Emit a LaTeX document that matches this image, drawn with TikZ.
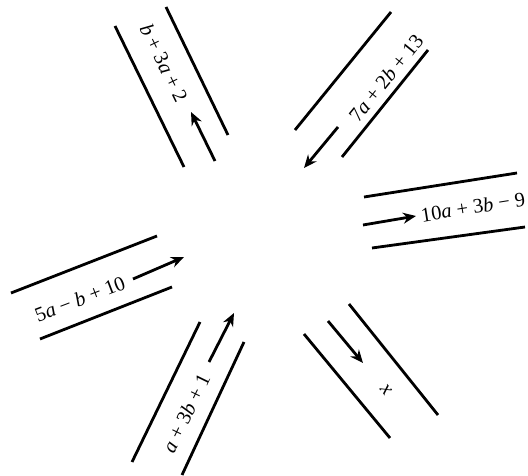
\documentclass[tikz,border=0pt]{standalone}
\usepackage{fontspec}
\setmainfont{Liberation Serif}
\usetikzlibrary{arrows.meta}
\tikzset{
  wall/.style={line width=2.8pt, line cap=butt},
  flow/.style={line width=2.8pt, -{Stealth[length=13pt,width=11pt]}},
  lbl/.style={font=\fontsize{20.5}{24}\selectfont, inner sep=0pt}
}
\newcommand{\va}{\textit{a}}
\newcommand{\vb}{\textit{b}}
\begin{document}
\begin{tikzpicture}[x=1pt,y=-1pt]
\useasboundingbox (0,0) rectangle (528,476);
% upper-left channel
\coordinate (a1) at (115,26); \coordinate (a2) at (184,167);
\coordinate (a3) at (166,7);  \coordinate (a4) at (228,135);
\coordinate (a5) at (215,161); \coordinate (a6) at (191,112);
\draw[wall] (a1) -- (a2); \draw[wall] (a3) -- (a4);
\draw[flow] (a5) -- (a6);
\node[lbl, rotate=-64] (la) at (164,63) {\vb\ + 3\va\ + 2};
% upper-right channel
\coordinate (b1) at (391,12); \coordinate (b2) at (295,130);
\coordinate (b3) at (428,50); \coordinate (b4) at (342,157);
\coordinate (b5) at (338,127); \coordinate (b6) at (304,168);
\draw[wall] (b1) -- (b2); \draw[wall] (b3) -- (b4);
\draw[flow] (b5) -- (b6);
\node[lbl, rotate=51] (lb) at (386,78) {7\va\ + 2\vb\ + 13};
% right channel
\coordinate (c1) at (364,197); \coordinate (c2) at (517,173);
\coordinate (c3) at (372,248); \coordinate (c4) at (525,227);
\coordinate (c5) at (363,225); \coordinate (c6) at (416,216);
\draw[wall] (c1) -- (c2); \draw[wall] (c3) -- (c4);
\draw[flow] (c5) -- (c6);
\node[lbl, rotate=9] (lc) at (473,207) {10\va\ + 3\vb\ − 9};
% left channel
\coordinate (d1) at (11,293); \coordinate (d2) at (157,236);
\coordinate (d3) at (40,339); \coordinate (d4) at (172,287);
\coordinate (d5) at (133,279); \coordinate (d6) at (184,257);
\draw[wall] (d1) -- (d2); \draw[wall] (d3) -- (d4);
\draw[flow] (d5) -- (d6);
\node[lbl, rotate=21] (ld) at (80,299) {5\va\ − \vb\ + 10};
% lower-left channel
\coordinate (e1) at (200,322); \coordinate (e2) at (132,462);
\coordinate (e3) at (244,342); \coordinate (e4) at (182,475);
\coordinate (e5) at (209,362); \coordinate (e6) at (234,313);
\draw[wall] (e1) -- (e2); \draw[wall] (e3) -- (e4);
\draw[flow] (e5) -- (e6);
\node[lbl, rotate=64] (le) at (186,413) {\va\ + 3\vb\ + 1};
% lower-right channel
\coordinate (f1) at (304,334); \coordinate (f2) at (390,438);
\coordinate (f3) at (349,304); \coordinate (f4) at (438,415);
\coordinate (f5) at (328,321); \coordinate (f6) at (363,363);
\draw[wall] (f1) -- (f2); \draw[wall] (f3) -- (f4);
\draw[flow] (f5) -- (f6);
\node[lbl, rotate=-50] (lf) at (386,390) {\textit{x}};
\end{tikzpicture}
\end{document}
